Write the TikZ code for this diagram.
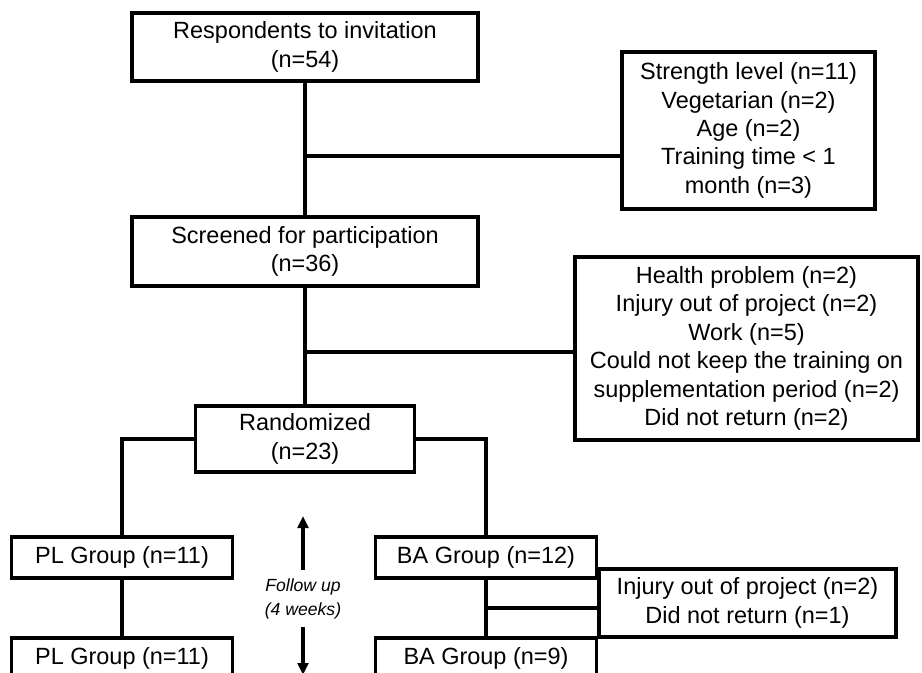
\documentclass[tikz,border=0pt]{standalone}
\usepackage{fontspec}
\setmainfont{Liberation Sans}
\usetikzlibrary{arrows.meta,calc}
\begin{document}
\begin{tikzpicture}[x=0.75pt,y=-0.75pt,
  box/.style={draw=black,line width=2.4pt,fill=white,align=center,inner sep=0pt,
    font=\fontsize{17.6}{21.3}\selectfont},
  conn/.style={line width=2.3pt,line cap=rect},
  fuarrow/.style={line width=2.4pt,-{Triangle[width=8pt,length=9pt]}},
  note/.style={align=center,inner sep=0pt,font=\fontsize{13.2}{17.8}\selectfont\itshape}]
\useasboundingbox (0,0) rectangle (922,672);
\clip (0,0) rectangle (922,672);
\fill[white] (0,0) rectangle (922,672);

\node[box,minimum width=259.5pt,minimum height=51pt] (b1) at (305,47)
  {Respondents to invitation\\(n=54)};
\node[box,minimum width=189.75pt,minimum height=117.75pt] (s1) at (748.5,130.5)
  {Strength level (n=11)\\Vegetarian (n=2)\\Age (n=2)\\Training time < 1\\month (n=3)};
\node[box,minimum width=259.5pt,minimum height=51.75pt] (b2) at (305,251.5)
  {Screened for participation\\(n=36)};
\node[box,minimum width=257.25pt,minimum height=137.25pt] (s2) at (746.5,348.5)
  {Health problem (n=2)\\Injury out of project (n=2)\\Work (n=5)\\Could not keep the training on\\supplementation period (n=2)\\Did not return (n=2)};
\node[box,minimum width=164.25pt,minimum height=49.5pt] (b3) at (305,439)
  {Randomized\\(n=23)};
\node[box,minimum width=165.75pt,minimum height=30.75pt] (pl1) at (122,557.5)
  {PL Group (n=11)};
\node[box,minimum width=165.75pt,minimum height=30.75pt] (ba1) at (486,557.5)
  {BA Group (n=12)};
\node[box,minimum width=222.75pt,minimum height=51pt] (s3) at (747.5,603)
  {Injury out of project (n=2)\\Did not return (n=1)};
\node[box,minimum width=165.75pt,minimum height=30.75pt] (pl2) at (122,658.5)
  {PL Group (n=11)};
\node[box,minimum width=165.75pt,minimum height=30.75pt] (ba2) at (486,658.5)
  {BA Group (n=9)};
\node[note] (fu) at (303,599) {Follow up\\(4 weeks)};

\coordinate (j1) at (305,156);
\coordinate (j2) at (305,352);
\coordinate (j3) at (486,608);
\coordinate (au0) at (303,570);
\coordinate (au1) at (303,516);
\coordinate (ad0) at (303,627);
\coordinate (ad1) at (303,675);

\draw[conn] (b1.south) -- (b2.north);
\draw[conn] (j1) -- (j1 -| s1.west);
\draw[conn] (b2.south) -- (b3.north);
\draw[conn] (j2) -- (j2 -| s2.west);
\draw[conn] (b3.west) -| (pl1.north);
\draw[conn] (b3.east) -| (ba1.north);
\draw[conn] (pl1.south) -- (pl2.north);
\draw[conn] (ba1.south) -- (ba2.north);
\draw[conn] (j3) -- (j3 -| s3.west);
\draw[fuarrow] (au0) -- (au1);
\draw[fuarrow] (ad0) -- (ad1);
\end{tikzpicture}
\end{document}
